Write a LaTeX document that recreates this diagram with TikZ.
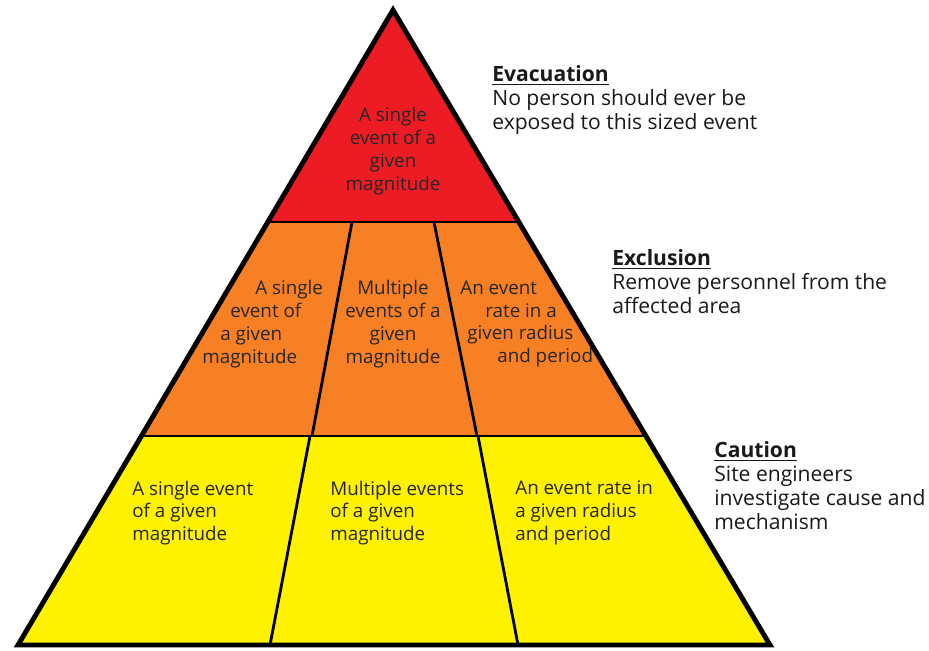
\documentclass[tikz,border=0pt]{standalone}
\usepackage{fontspec}
\setmainfont{Open Sans}
\definecolor{tierred}{RGB}{237,28,36}
\definecolor{tierorange}{RGB}{248,128,36}
\definecolor{tieryellow}{RGB}{255,242,0}

\begin{document}
\begin{tikzpicture}[x=0.02cm, y=-0.02cm,
    celltext/.style={font=\fontsize{10.7}{13}\selectfont, text=black!85, inner sep=0pt},
    notetext/.style={font=\fontsize{12}{13.6}\selectfont, text=black!90, align=left, anchor=base west, inner sep=0pt},
    divider/.style={line width=1.6pt}]
			%%%%% START %%%%%
			\useasboundingbox (0,0) rectangle (929,650);
			
			\coordinate (apex) at (393,10);
			\coordinate (baseL) at (18,645);
			\coordinate (baseR) at (770,645);
			
			\begin{scope}
				\clip (apex) -- (baseR) -- (baseL) -- cycle;
				\fill[tieryellow] (0,436) rectangle (929,650);
				\fill[tierorange] (0,222) rectangle (929,436);
				\fill[tierred] (0,0) rectangle (929,222);
				\draw[divider] (0,222) -- (929,222);
				\draw[divider] (0,436) -- (929,436);
				\draw[divider] (352,222) -- (312,436);
				\draw[divider] (434,222) -- (477,436);
				\draw[divider] (310,436) -- (270,645);
				\draw[divider] (478,436) -- (518,645);
			\end{scope}
			\draw[line width=2.8pt] (apex) -- (baseR) -- (baseL) -- cycle;
			
			% top tier
			\node[celltext, align=center] (redcell) at (393,151) {A single\\event of a\\given\\magnitude};
			
			% middle tier
			\node[celltext, align=left, anchor=west] (orangeA) at (202,324) {\hspace*{1.06cm}A single\\\hspace*{0.56cm}event of\\\hspace*{0.36cm}a given\\magnitude};
			\node[celltext, align=center] (orangeB) at (393,324) {Multiple\\events of a\\given\\magnitude};
			\node[celltext, align=left, anchor=west] (orangeC) at (460,324) {An event\\\hspace*{0.5cm}rate in a\\\hspace*{0.14cm}given radius\\\hspace*{0.74cm}and period};
			
			% bottom tier
			\node[celltext, align=left, anchor=west] (yellowA) at (132,513) {A single event\\of a given\\magnitude};
			\node[celltext, align=left, anchor=west] (yellowB) at (330,513) {Multiple events\\of a given\\magnitude};
			\node[celltext, align=left, anchor=west] (yellowC) at (515,513) {An event rate in\\a given radius\\and period};
			
			% levels (anchored at the baseline of the last line)
			\node[notetext] (evac) at (492,129) {\underline{\textbf{Evacuation}}\\No person should ever be\\exposed to this sized event};
			\node[notetext] (excl) at (612,313) {\underline{\textbf{Exclusion}}\\Remove personnel from the\\affected area};
			\node[notetext] (caut) at (714,529) {\underline{\textbf{Caution}}\\Site engineers\\investigate cause and\\mechanism};
			%%%%% END %%%%%
\end{tikzpicture}
\end{document}
